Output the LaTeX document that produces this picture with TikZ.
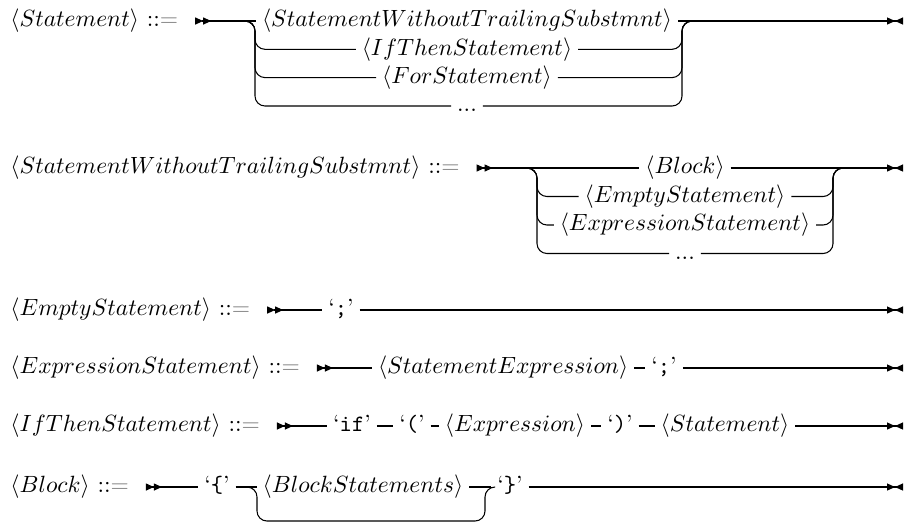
\documentclass[tikz,border=0pt]{standalone}
\usepackage{xcolor}
\usetikzlibrary{arrows.meta,positioning}

\tikzset{
  rail/.style={line width=0.45pt, rounded corners=4.25pt},
  item/.style={inner xsep=2.35pt, inner ysep=0pt, text height=7.5pt, text depth=2.5pt},
  lhs/.style={item, anchor=west, inner xsep=0pt},
  railstart/.style={rail, {Triangle[reversed,length=3.4pt,width=3pt]Triangle[reversed,length=3.4pt,width=3pt]}-},
  railend/.style={rail, -{Triangle[length=3.4pt,width=3pt]Triangle[reversed,length=3.4pt,width=3pt]}},
}
\newcommand{\nt}[1]{$\langle #1\rangle$}
\newcommand{\tm}[1]{`\texttt{#1}'}
\newcommand{\defines}{::\textcolor{gray}{=}}

\begin{document}
\begin{tikzpicture}[x=0.4255pt, y=-0.4255pt]
  \useasboundingbox (0,0) rectangle (907,525);

  % Statement
  \node[lhs] (stmt) at (10,21) {\nt{Statement} \defines};
  \coordinate[right=7pt of stmt] (stmt-s);
  \node[item] (stmt-a) at (467,21) {\nt{StatementWithoutTrailingSubstmnt}};
  \node[item] (stmt-b) at (467,49.3) {\nt{IfThenStatement}};
  \node[item] (stmt-c) at (467,77.6) {\nt{ForStatement}};
  \node[item] (stmt-d) at (467,106) {...};
  \coordinate (stmt-l) at (245,21);
  \coordinate (stmt-j) at (255,21);
  \coordinate (stmt-k) at (682,21);
  \coordinate (stmt-r) at (692,21);
  \coordinate (stmt-e) at (903,21);
  \draw[railstart] (stmt-s) -- (stmt-a.west);
  \draw[railend] (stmt-a.east) -- (stmt-e);
  \foreach \alt in {b,c,d}{
    \draw[rail] (stmt-l) -- (stmt-j) |- (stmt-\alt.west);
    \draw[rail] (stmt-\alt.east) -| (stmt-k) -- (stmt-r);
  }

  % StatementWithoutTrailingSubstmnt
  \node[lhs] (swts) at (10,168) {\nt{StatementWithoutTrailingSubstmnt} \defines};
  \coordinate[right=7pt of swts] (swts-s);
  \node[item] (swts-a) at (685,168) {\nt{Block}};
  \node[item] (swts-b) at (685,196.5) {\nt{EmptyStatement}};
  \node[item] (swts-c) at (685,225) {\nt{ExpressionStatement}};
  \node[item] (swts-d) at (685,253.5) {...};
  \coordinate (swts-l) at (527,168);
  \coordinate (swts-j) at (537,168);
  \coordinate (swts-k) at (833,168);
  \coordinate (swts-r) at (843,168);
  \coordinate (swts-e) at (903,168);
  \draw[railstart] (swts-s) -- (swts-a.west);
  \draw[railend] (swts-a.east) -- (swts-e);
  \foreach \alt in {b,c,d}{
    \draw[rail] (swts-l) -- (swts-j) |- (swts-\alt.west);
    \draw[rail] (swts-\alt.east) -| (swts-k) -- (swts-r);
  }

  % EmptyStatement
  \node[lhs] (empty) at (10,310) {\nt{EmptyStatement} \defines};
  \coordinate[right=7pt of empty] (empty-s);
  \node[item] (empty-a) at (341,310) {\tm{;}};
  \coordinate (empty-e) at (903,310);
  \draw[railstart] (empty-s) -- (empty-a);
  \draw[railend] (empty-a) -- (empty-e);

  % ExpressionStatement
  \node[lhs] (expr) at (10,368) {\nt{ExpressionStatement} \defines};
  \coordinate[right=7pt of expr] (expr-s);
  \node[item, anchor=west] (expr-a) at (372,368) {\nt{StatementExpression}};
  \node[item, right=4.7pt of expr-a] (expr-b) {\tm{;}};
  \coordinate (expr-e) at (903,368);
  \draw[railstart] (expr-s) -- (expr-a);
  \draw[rail] (expr-a) -- (expr-b);
  \draw[railend] (expr-b) -- (expr-e);

  % IfThenStatement
  \node[lhs] (ifthen) at (10,426) {\nt{IfThenStatement} \defines};
  \coordinate[right=7pt of ifthen] (ifthen-s);
  \node[item] (ifthen-a) at (352,426) {\tm{if}};
  \node[item] (ifthen-b) at (412,426) {\tm{(}};
  \node[item] (ifthen-c) at (515,426) {\nt{Expression}};
  \node[item] (ifthen-d) at (620,426) {\tm{)}};
  \node[item] (ifthen-f) at (725,426) {\nt{Statement}};
  \coordinate (ifthen-e) at (903,426);
  \draw[railstart] (ifthen-s) -- (ifthen-a);
  \draw[rail] (ifthen-a) -- (ifthen-b) (ifthen-b) -- (ifthen-c)
    (ifthen-c) -- (ifthen-d) (ifthen-d) -- (ifthen-f);
  \draw[railend] (ifthen-f) -- (ifthen-e);

  % Block
  \node[lhs] (block) at (10,487) {\nt{Block} \defines};
  \coordinate[right=7pt of block] (block-s);
  \node[item] (block-a) at (217,487) {\tm{\char`\{}};
  \node[item] (block-b) at (363,487) {\nt{BlockStatements}};
  \node[item] (block-c) at (510,487) {\tm{\char`\}}};
  \coordinate (block-l) at (247,487);
  \coordinate (block-j) at (257,487);
  \coordinate (block-p) at (257,521);
  \coordinate (block-q) at (485,521);
  \coordinate (block-k) at (485,487);
  \coordinate (block-r) at (495,487);
  \coordinate (block-e) at (903,487);
  \draw[railstart] (block-s) -- (block-a);
  \draw[rail] (block-a) -- (block-b) (block-b) -- (block-c);
  \draw[rail] (block-l) -- (block-j) -- (block-p) -- (block-q) -- (block-k) -- (block-r);
  \draw[railend] (block-c) -- (block-e);
\end{tikzpicture}
\end{document}
